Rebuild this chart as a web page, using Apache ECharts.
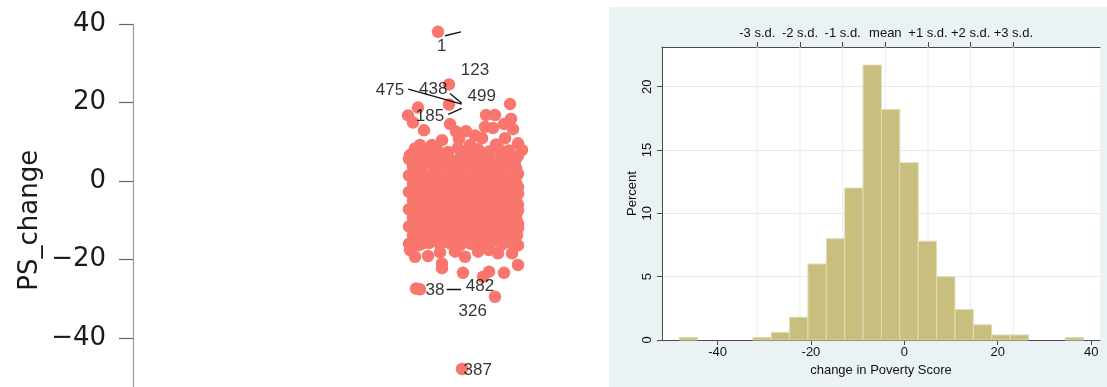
<!DOCTYPE html>
<html>
<head>
<meta charset="utf-8">
<script src="https://cdn.jsdelivr.net/npm/echarts@6/dist/echarts.min.js"></script>
<style>
  html, body { margin: 0; padding: 0; background: #ffffff; }
  #chart { width: 1107px; height: 387px; }
</style>
</head>
<body>
<div id="chart"></div>
<script>
// ---- Strip plot of PS_change: [horizontal jitter, PS_change] ----
const psPoints = [
  // upper tail
  [-0.25, 38.0], [-0.14, 24.6], [-0.14, 19.5], [-0.45, 18.7], [-0.55, 16.7], [-0.50, 14.9],
  [-0.39, 12.9], [-0.13, 14.5], [-0.07, 12.6], [0.03, 12.7], [0.23, 16.8], [0.32, 16.8],
  [0.47, 19.6], [0.48, 15.8], [0.41, 14.5], [0.30, 13.5], [0.50, 13.2], [0.22, 13.8],
  [-0.04, 10.7], [-0.21, 10.4], [-0.31, 9.2], [-0.43, 9.2], [-0.53, 6.6], [0.07, 9.2],
  [0.19, 10.9], [0.42, 10.9], [0.55, 9.6], [0.59, 7.9], [0.12, 11.6], [0.33, 9.3],
  // main body
  [-0.48, 8.3], [-0.37, 7.6], [-0.26, 8.0], [-0.15, 7.4], [-0.05, 8.4], [0.05, 7.7], [0.15, 8.1], [0.26, 7.5], [0.36, 8.2], [0.46, 7.8],
  [-0.54, 5.6], [-0.44, 6.2], [-0.34, 5.8], [-0.24, 6.1], [-0.13, 5.5], [-0.03, 6.0], [0.08, 5.7], [0.18, 6.3], [0.28, 5.6], [0.38, 6.0], [0.49, 5.8], [0.55, 6.4],
  [-0.49, 4.7], [-0.29, 4.9], [-0.08, 4.6], [0.13, 4.8], [0.33, 4.6], [0.52, 4.9],
  [-0.50, 3.6], [-0.40, 4.0], [-0.29, 3.5], [-0.19, 3.9], [-0.09, 3.4], [0.02, 3.8], [0.12, 3.6], [0.23, 4.0], [0.33, 3.5], [0.43, 3.9], [0.53, 3.3],
  [-0.54, 1.4], [-0.45, 1.8], [-0.35, 1.3], [-0.24, 1.7], [-0.14, 1.2], [-0.04, 1.6], [0.07, 1.3], [0.17, 1.9], [0.27, 1.4], [0.38, 1.6], [0.48, 1.2], [0.55, 1.8],
  [-0.40, 0.4], [-0.19, 0.6], [0.02, 0.3], [0.22, 0.5], [0.43, 0.4],
  [-0.50, -0.6], [-0.40, -0.9], [-0.30, -0.5], [-0.19, -1.0], [-0.09, -0.4], [0.01, -0.8], [0.12, -0.5], [0.22, -0.9], [0.32, -0.6], [0.43, -1.0], [0.53, -0.5],
  [-0.45, -1.9], [-0.24, -1.7], [-0.04, -2.0], [0.17, -1.8], [0.37, -1.9], [0.55, -1.6],
  [-0.54, -2.8], [-0.45, -3.1], [-0.35, -2.6], [-0.25, -3.0], [-0.14, -2.7], [-0.04, -3.2], [0.06, -2.8], [0.17, -3.1], [0.27, -2.6], [0.37, -3.0], [0.48, -2.9], [0.55, -3.3],
  [-0.40, -4.1], [-0.19, -4.2], [0.02, -4.0], [0.22, -4.3], [0.43, -4.1],
  [-0.50, -5.0], [-0.40, -5.4], [-0.29, -4.9], [-0.19, -5.3], [-0.09, -4.8], [0.02, -5.2], [0.12, -5.0], [0.22, -5.4], [0.33, -4.9], [0.43, -5.3], [0.53, -5.0],
  [-0.45, -6.3], [-0.24, -6.1], [-0.03, -6.4], [0.18, -6.2], [0.38, -6.3], [0.55, -6.0],
  [-0.54, -7.2], [-0.44, -7.5], [-0.34, -7.0], [-0.24, -7.4], [-0.13, -7.1], [-0.03, -7.6], [0.07, -7.2], [0.18, -7.5], [0.28, -7.0], [0.38, -7.4], [0.48, -7.1], [0.55, -7.6],
  [-0.39, -8.5], [-0.19, -8.3], [0.02, -8.6], [0.23, -8.4], [0.44, -8.5],
  [-0.50, -9.4], [-0.39, -9.8], [-0.29, -9.3], [-0.19, -9.7], [-0.08, -9.2], [0.02, -9.6], [0.13, -9.4], [0.23, -9.8], [0.33, -9.3], [0.44, -9.7], [0.53, -9.4],
  [-0.44, -10.6], [-0.23, -10.8], [-0.03, -10.5], [0.18, -10.7], [0.39, -10.6], [0.55, -10.9],
  [-0.54, -11.6], [-0.44, -11.9], [-0.34, -11.4], [-0.23, -11.8], [-0.13, -11.5], [-0.03, -12.0], [0.08, -11.6], [0.18, -11.9], [0.28, -11.4], [0.39, -11.8], [0.49, -11.5], [0.55, -12.0],
  [-0.40, -12.9], [-0.19, -12.7], [0.02, -13.0], [0.23, -12.8], [0.44, -12.9],
  [-0.50, -13.8], [-0.40, -14.2], [-0.29, -13.7], [-0.19, -14.1], [-0.08, -13.6], [0.02, -14.0], [0.13, -13.8], [0.23, -14.2], [0.34, -13.7], [0.44, -14.1], [0.54, -13.8],
  [-0.44, -15.1], [-0.23, -14.9], [-0.03, -15.2], [0.18, -15.0], [0.39, -15.1],
  [-0.54, -16.0], [-0.44, -16.3], [-0.34, -15.8], [-0.23, -16.2], [-0.13, -15.9], [-0.03, -16.4], [0.08, -16.0], [0.18, -16.3], [0.28, -15.8], [0.39, -16.2], [0.49, -15.9], [0.55, -16.4],
  // lower edge and lower tail
  [-0.53, -17.6], [-0.48, -19.3], [-0.40, -15.9], [-0.35, -19.1], [-0.08, -18.0], [0.02, -19.3],
  [0.14, -16.0], [0.15, -18.0], [0.35, -18.4], [0.49, -18.4], [-0.23, -18.2], [0.26, -17.6],
  [-0.21, -21.0], [-0.21, -22.2], [0.00, -23.4], [0.26, -23.1], [0.20, -24.4], [0.41, -23.4], [0.55, -21.4],
  [-0.47, -27.4], [-0.43, -27.6], [0.32, -29.5], [-0.01, -47.9]
];

// observation ids placed beside outlying points: [x, PS_change, id]
const pointLabels = [
  [-0.213, 34.2, '1'], [0.12, 28.1, '123'], [-0.73, 23.0, '475'], [-0.297, 23.4, '438'],
  [0.187, 21.5, '499'], [-0.33, 16.6, '185'], [-0.28, -27.8, '38'], [0.17, -26.8, '482'],
  [0.097, -33.3, '326'], [0.147, -48.2, '387']
];

// leader segments from ids to their points
const leaderLines = [
  [[-0.18, 37.0], [-0.02, 38.0]],
  [[-0.547, 23.4], [-0.013, 19.6]],
  [[-0.13, 22.3], [-0.013, 19.8]],
  [[-0.147, 17.0], [-0.013, 18.5]],
  [[-0.163, -27.6], [-0.02, -27.6]]
];

// ---- Histogram of change in Poverty Score (22 bins, percent) ----
const binStart = -48.2;
const binWidth = 3.936;
const binPercent = [0.2, 0, 0, 0, 0.2, 0.6, 1.8, 6.0, 8.0, 12.0, 21.7, 18.2, 14.0, 7.8, 5.0, 2.4, 1.2, 0.4, 0.4, 0, 0, 0.2];

const sdTicks = [-31.49, -22.35, -13.21, -4.07, 5.07, 14.21, 23.35];
const sdLabels = ['-3 s.d.', '-2 s.d.', '-1 s.d.', 'mean', '+1 s.d.', '+2 s.d.', '+3 s.d.'];
const histXTicks = [-40, -20, 0, 20, 40];
const histYTicks = [0, 5, 10, 15, 20];
const psTicks = [-40, -20, 0, 20, 40];

const histXMin = -51.9, histXMax = 41.9, histYMax = 23.13;

const bins = binPercent.map((p, i) => [binStart + i * binWidth, binStart + (i + 1) * binWidth, p]);

const chart = echarts.init(document.getElementById('chart'), null, { renderer: 'canvas' });

const sansA = 'Liberation Sans, Arial, Helvetica, sans-serif';

chart.setOption({
  animation: false,
  backgroundColor: '#ffffff',
  graphic: [{
    type: 'rect', z: -10, silent: true,
    shape: { x: 609, y: 7, width: 498, height: 380 },
    style: { fill: '#EAF2F3' }
  }],
  grid: [
    { left: 133, top: 24, width: 462, height: 392.5, show: false, outerBoundsMode: 'none', containLabel: false },
    { left: 662, top: 47, width: 438, height: 293, show: true, backgroundColor: '#ffffff', borderWidth: 0, z: 0,
      outerBoundsMode: 'none', containLabel: false }
  ],
  xAxis: [
    { gridIndex: 0, type: 'value', min: -3.3, max: 1.32, show: false },
    {
      gridIndex: 1, type: 'value', position: 'bottom', min: histXMin, max: histXMax,
      axisLine: { show: true, onZero: false, lineStyle: { color: '#4a4a4a', width: 1 } },
      axisTick: { show: true, length: 5, customValues: histXTicks, lineStyle: { color: '#4a4a4a' } },
      axisLabel: { customValues: histXTicks, margin: 6, fontFamily: sansA, fontSize: 13, color: '#111',
        formatter: v => String(v) },
      splitLine: { show: false },
      name: 'change in Poverty Score', nameLocation: 'middle', nameGap: 23,
      nameTextStyle: { fontFamily: sansA, fontSize: 13, color: '#111' }
    },
    {
      gridIndex: 1, type: 'value', position: 'top', min: histXMin, max: histXMax,
      axisLine: { show: true, onZero: false, lineStyle: { color: '#4a4a4a', width: 1 } },
      axisTick: { show: true, length: 5, customValues: sdTicks, lineStyle: { color: '#4a4a4a' } },
      axisLabel: { customValues: sdTicks, margin: 7, fontFamily: sansA, fontSize: 13, color: '#111',
        formatter: v => {
          let best = 0;
          sdTicks.forEach((t, i) => { if (Math.abs(t - v) < Math.abs(sdTicks[best] - v)) best = i; });
          return sdLabels[best];
        } },
      splitLine: { show: false }
    }
  ],
  yAxis: [
    {
      gridIndex: 0, type: 'value', min: -60, max: 40, interval: 20,
      axisLine: { show: true, onZero: false, lineStyle: { color: '#9a9a9a', width: 1.2 } },
      axisTick: { show: true, length: 14, customValues: psTicks, lineStyle: { color: '#666', width: 1.2 } },
      axisLabel: { customValues: psTicks, margin: 27, fontFamily: 'DejaVu Sans, sans-serif', fontSize: 26, color: '#1a1a1a',
        formatter: v => (v < 0 ? '\u2212' + Math.abs(v) : String(v)) },
      splitLine: { show: false },
      name: 'PS_change', nameLocation: 'middle', nameGap: 90,
      nameTextStyle: { fontFamily: 'DejaVu Sans, sans-serif', fontSize: 26, color: '#1a1a1a' }
    },
    {
      gridIndex: 1, type: 'value', min: 0, max: histYMax,
      axisLine: { show: true, onZero: false, lineStyle: { color: '#4a4a4a', width: 1 } },
      axisTick: { show: true, length: 5, customValues: histYTicks, lineStyle: { color: '#4a4a4a' } },
      axisLabel: { customValues: histYTicks, rotate: 90, margin: 8, fontFamily: sansA, fontSize: 13, color: '#111' },
      splitLine: { show: true, lineStyle: { color: '#e6ecee', width: 1 } },
      name: 'Percent', nameLocation: 'middle', nameGap: 23,
      nameTextStyle: { fontFamily: sansA, fontSize: 13, color: '#111' }
    }
  ],
  series: [
    {
      name: 'PS_change', type: 'scatter', xAxisIndex: 0, yAxisIndex: 0,
      data: psPoints, symbolSize: 12.5,
      itemStyle: { color: '#F8766D', opacity: 1 },
      z: 2
    },
    {
      name: 'ids', type: 'scatter', xAxisIndex: 0, yAxisIndex: 0,
      data: pointLabels, symbolSize: 0, z: 4,
      label: { show: true, position: 'inside', formatter: p => p.value[2],
        fontFamily: sansA, fontSize: 17, color: '#000' }
    },
    {
      name: 'leaders', type: 'lines', coordinateSystem: 'cartesian2d', xAxisIndex: 0, yAxisIndex: 0,
      data: leaderLines.map(c => ({ coords: c })),
      lineStyle: { color: '#111', width: 1.4, opacity: 1 }, z: 3, silent: true
    },
    {
      name: 'sdGrid', type: 'custom', xAxisIndex: 1, yAxisIndex: 1, silent: true, z: 1,
      data: sdTicks.map(v => [v]),
      encode: { x: 0 },
      renderItem: (params, api) => {
        const top = api.coord([api.value(0), histYMax]);
        const bot = api.coord([api.value(0), 0]);
        return { type: 'line', shape: { x1: top[0], y1: top[1], x2: bot[0], y2: bot[1] },
          style: { stroke: '#e6ecee', lineWidth: 1 } };
      }
    },
    {
      name: 'Percent', type: 'custom', xAxisIndex: 1, yAxisIndex: 1, z: 2,
      data: bins,
      encode: { x: [0, 1], y: 2 },
      renderItem: (params, api) => {
        const h = api.value(2);
        if (!h) return null;
        const p0 = api.coord([api.value(0), h]);
        const p1 = api.coord([api.value(1), 0]);
        return { type: 'rect',
          shape: { x: p0[0], y: p0[1], width: p1[0] - p0[0], height: p1[1] - p0[1] },
          style: { fill: '#C8BE7E', stroke: '#E2DCB4', lineWidth: 1 } };
      }
    }
  ]
});
</script>
</body>
</html>
